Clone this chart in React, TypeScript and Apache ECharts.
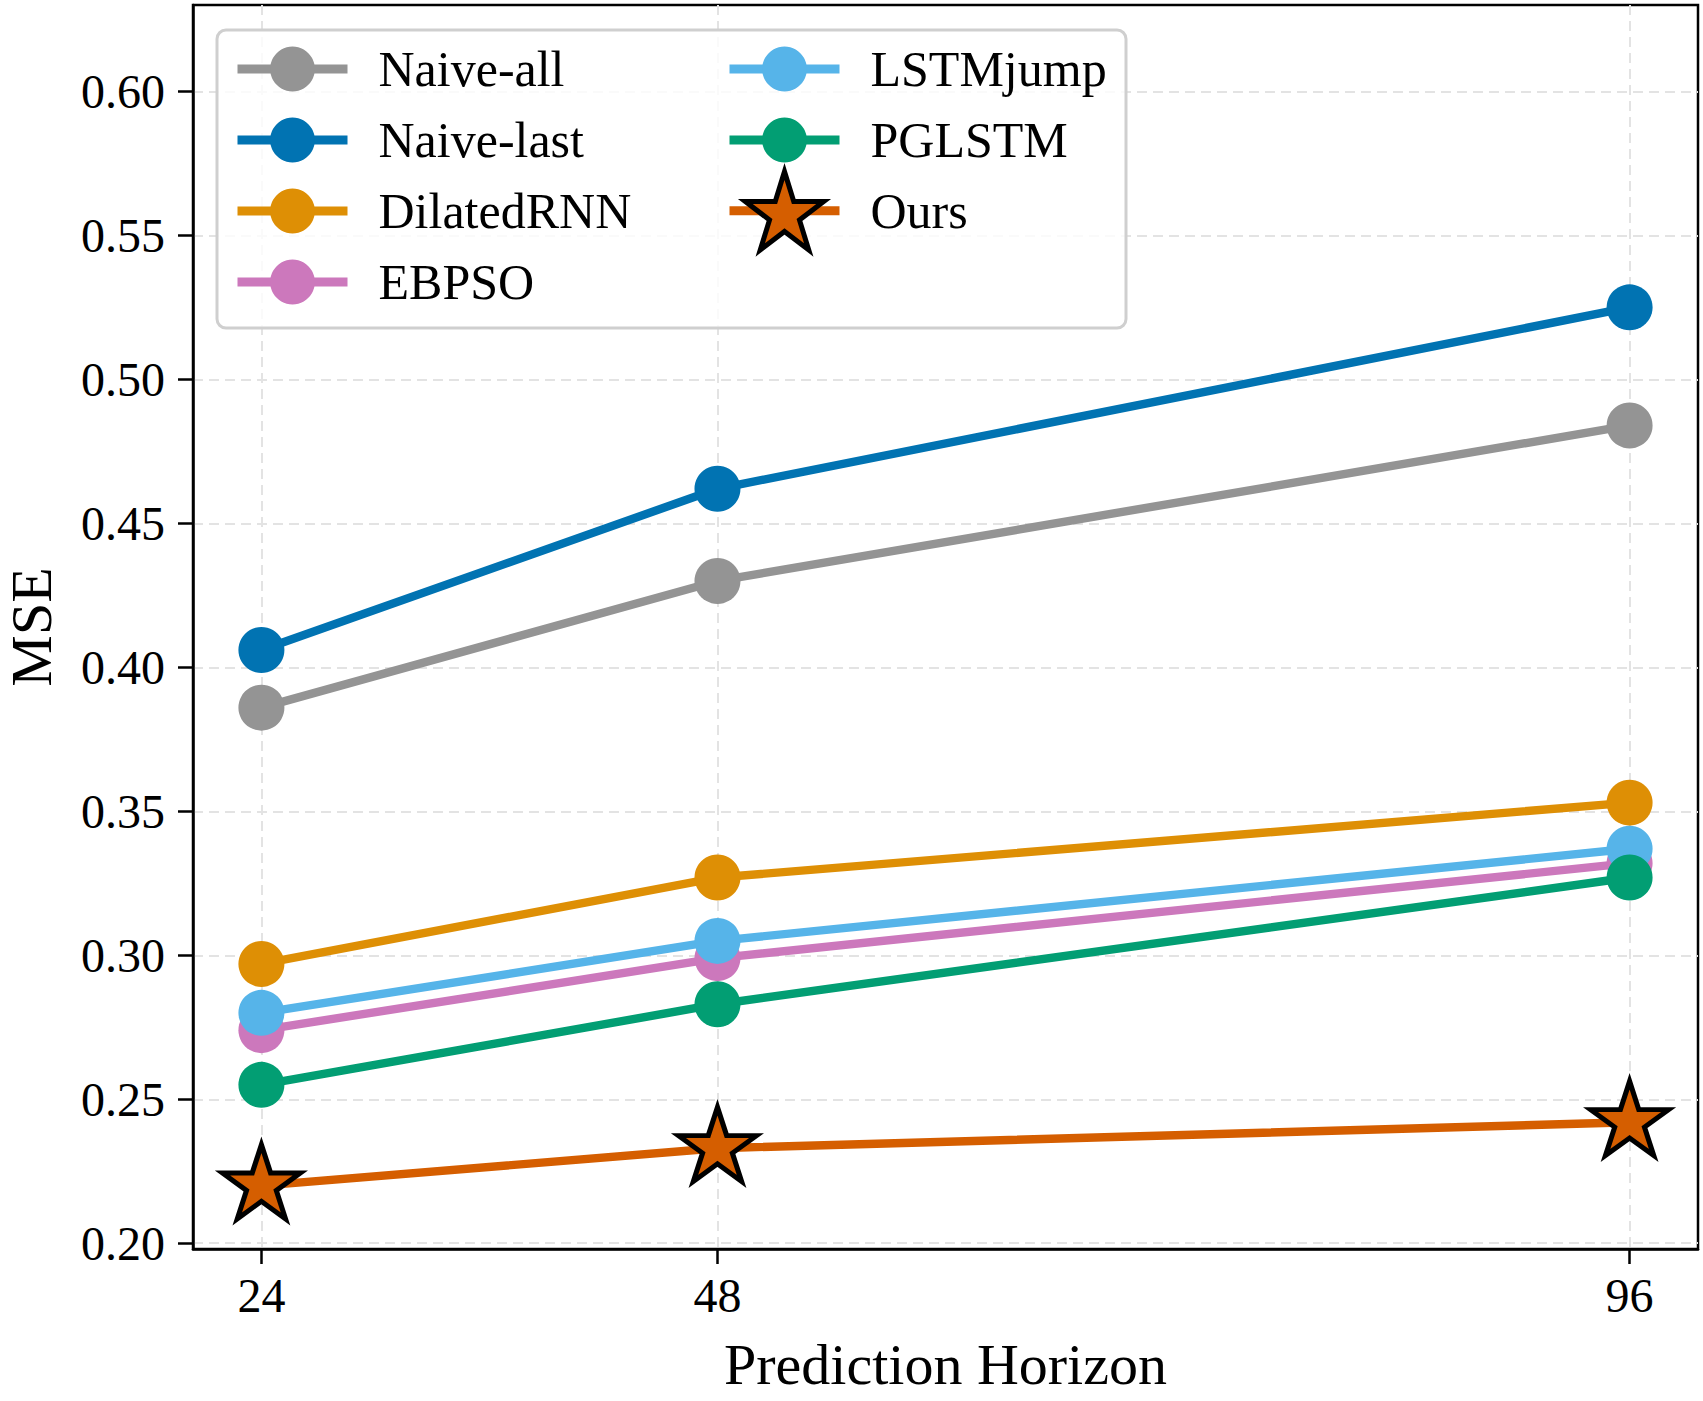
import React, { useEffect, useRef } from "react";
import * as echarts from "echarts";

const horizons = [24, 48, 96];
const yTicks = [0.2, 0.25, 0.3, 0.35, 0.4, 0.45, 0.5, 0.55, 0.6];
const seriesNames = ["Naive-all", "Naive-last", "DilatedRNN", "EBPSO", "LSTMjump", "PGLSTM", "Ours"];
const naiveAll = [0.386, 0.43, 0.484];
const naiveLast = [0.406, 0.462, 0.525];
const dilatedRNN = [0.297, 0.327, 0.353];
const ebpso = [0.274, 0.299, 0.332];
const lstmJump = [0.28, 0.305, 0.337];
const pglstm = [0.255, 0.283, 0.327];
const ours = [0.22, 0.233, 0.242];
const colors = ["#949494", "#0173B2", "#DE8F05", "#CC78BC", "#56B4E9", "#029E73", "#D55E00"];

function starPath(): string {
  const pts: string[] = [];
  for (let k = 0; k < 10; k++) {
    const ang = (-90 + k * 36) * Math.PI / 180;
    const r = k % 2 === 0 ? 1 : 0.381966;
    pts.push(`${(r * Math.cos(ang) * 100).toFixed(2)},${(r * Math.sin(ang) * 100).toFixed(2)}`);
  }
  return "path://M" + pts.join("L") + "Z";
}

const FONT = "Liberation Serif";

export default function App() {
  const ref = useRef<HTMLDivElement>(null);
  useEffect(() => {
    if (!ref.current) return;
    const chart = echarts.init(ref.current, undefined, { renderer: "svg" });
    const allData = [naiveAll, naiveLast, dilatedRNN, ebpso, lstmJump, pglstm, ours];
    const star = starPath();
    const R = 41;
    const series: any[] = allData.map((vals, i) => {
      const isStar = i === 6;
      return {
        name: seriesNames[i],
        type: "line",
        data: horizons.map((h, j) => [h, vals[j]]),
        symbol: isStar ? star : "circle",
        symbolSize: isStar ? [1.902 * R, 1.809 * R] : 46,
        symbolOffset: isStar ? [0, -0.095 * R] : [0, 0],
        showSymbol: true,
        lineStyle: { color: colors[i], width: 8.4 },
        itemStyle: isStar
          ? { color: colors[i], borderColor: "#000", borderWidth: 5 }
          : { color: colors[i], borderWidth: 0 },
        emphasis: { disabled: true },
        z: 2,
      };
    });
    const legendText = { fontFamily: FONT, fontSize: 50, color: "#000", padding: [0, 0, 0, 26] };
    const legendLine = { width: 9 };
    chart.setOption({
      animation: false,
      backgroundColor: "#fff",
      color: colors,
      grid: {
        left: 193, right: 5, top: 5, bottom: 152, show: true, borderColor: "#000", borderWidth: 2.5,
        backgroundColor: "transparent", containLabel: false, outerBoundsMode: "none",
      },
      xAxis: {
        type: "value",
        min: 20.4,
        max: 99.6,
        name: "Prediction Horizon",
        nameLocation: "middle",
        nameGap: 86,
        nameTextStyle: { fontFamily: FONT, fontSize: 58, color: "#000" },
        axisLine: { show: true, lineStyle: { color: "#000", width: 2.5 } },
        axisTick: { show: true, inside: false, length: 15, lineStyle: { color: "#000", width: 2.5 }, customValues: horizons },
        axisLabel: { fontFamily: FONT, fontSize: 48, color: "#000", margin: 22, customValues: horizons },
        splitLine: { show: true, lineStyle: { color: "#e3e3e3", width: 2, type: [10, 6] } },
      },
      yAxis: {
        type: "value",
        min: 0.198,
        max: 0.63,
        name: "MSE",
        nameLocation: "middle",
        nameGap: 133,
        nameTextStyle: { fontFamily: FONT, fontSize: 58, color: "#000" },
        axisLine: { show: true, lineStyle: { color: "#000", width: 2.5 } },
        axisTick: { show: true, inside: false, length: 15, lineStyle: { color: "#000", width: 2.5 }, customValues: yTicks },
        axisLabel: { fontFamily: FONT, fontSize: 48, color: "#000", margin: 28, customValues: yTicks, formatter: (v: number) => v.toFixed(2) },
        splitLine: { show: true, lineStyle: { color: "#e3e3e3", width: 2, type: [10, 6] } },
      },
      legend: [
        {
          orient: "vertical", left: 233, top: 44, padding: 0, itemWidth: 110, itemHeight: 56, itemGap: 21,
          data: seriesNames.slice(0, 4), textStyle: legendText, lineStyle: legendLine, selectedMode: false, z: 10,
        },
        {
          orient: "vertical", left: 725, top: 44, padding: 0, itemWidth: 110, itemHeight: 56, itemGap: 21,
          data: seriesNames.slice(4, 6), textStyle: legendText, lineStyle: legendLine, selectedMode: false, z: 10,
        },
        {
          orient: "vertical", left: 725, top: 169, padding: 0, itemWidth: 110, itemHeight: 98, itemGap: 15,
          data: seriesNames.slice(6), textStyle: legendText, lineStyle: legendLine, selectedMode: false, z: 10,
          itemStyle: { borderColor: "#000", borderWidth: 5 },
        },
      ],
      graphic: [
        {
          type: "rect", z: 5, silent: true,
          shape: { x: 217, y: 30, width: 909, height: 298, r: 9 },
          style: { fill: "rgba(255,255,255,0.8)", stroke: "#cfcfcf", lineWidth: 3 },
        },
      ],
      series,
    });
    return () => chart.dispose();
  }, []);
  return <div ref={ref} style={{ position: "fixed", left: 0, top: 0, width: 1703, height: 1401 }} />;
}
